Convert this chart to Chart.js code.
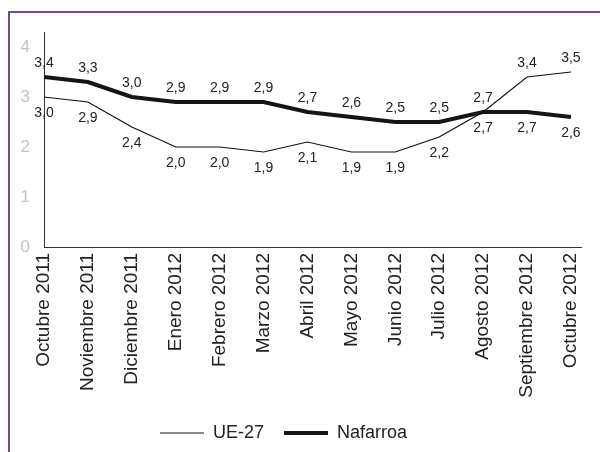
<!DOCTYPE html>
<html>
<head>
<meta charset="utf-8">
<script src="https://cdn.jsdelivr.net/npm/chart.js@4.4.1/dist/chart.umd.min.js"></script>
<style>
  html, body { margin: 0; padding: 0; background: #fff; overflow: hidden; }
  #frame {
    position: absolute; left: 8px; top: 11px; width: 700px; height: 600px;
    border-top: 2px solid #6d4f8c; border-left: 2px solid #6d4f8c;
  }
  #wrap { position: absolute; left: 0; top: 0; width: 600px; height: 452px; }
</style>
</head>
<body>
<div id="frame"></div>
<div id="wrap"><canvas id="chart" width="600" height="452"></canvas></div>
<script>
const months = [
  "Octubre 2011", "Noviembre 2011", "Diciembre 2011", "Enero 2012",
  "Febrero 2012", "Marzo 2012", "Abril 2012", "Mayo 2012", "Junio 2012",
  "Julio 2012", "Agosto 2012", "Septiembre 2012", "Octubre 2012"
];
const ue27 = [3.0, 2.9, 2.4, 2.0, 2.0, 1.9, 2.1, 1.9, 1.9, 2.2, 2.7, 3.4, 3.5];
const nafarroa = [3.4, 3.3, 3.0, 2.9, 2.9, 2.9, 2.7, 2.6, 2.5, 2.5, 2.7, 2.7, 2.6];
const yTicks = [0, 1, 2, 3, 4];

const FONT = "'Liberation Sans', Arial, sans-serif";

// value labels: whichever series is higher gets its label above the line
const valueLabels = {
  id: "valueLabels",
  afterDatasetsDraw(chart) {
    const ctx = chart.ctx;
    ctx.save();
    ctx.font = "14px " + FONT;
    ctx.fillStyle = "#222";
    ctx.textAlign = "center";
    ctx.textBaseline = "middle";
    chart.data.datasets.forEach((ds, di) => {
      const meta = chart.getDatasetMeta(di);
      meta.data.forEach((pt, i) => {
        const v = ds.data[i].y;
        let above;
        if (di === 0) above = ue27[i] >= nafarroa[i];
        else above = nafarroa[i] > ue27[i];
        const y = above ? pt.y - 14 : pt.y + 16;
        ctx.fillText(v.toFixed(1).replace(".", ","), pt.x, y);
      });
    });
    ctx.restore();
  }
};

// the legend in the original sits a bit left of centre
const legendShift = {
  id: "legendShift",
  afterLayout(chart) {
    chart.legend.left -= 9;
    chart.legend.right -= 9;
  }
};

new Chart(document.getElementById("chart"), {
  type: "line",
  data: {
    datasets: [
      {
        label: "UE-27",
        data: ue27.map((v, i) => ({ x: i, y: v })),
        borderColor: "#111",
        backgroundColor: "#111",
        borderWidth: 1.2,
        pointRadius: 0,
        tension: 0
      },
      {
        label: "Nafarroa",
        data: nafarroa.map((v, i) => ({ x: i, y: v })),
        borderColor: "#151515",
        backgroundColor: "#151515",
        borderWidth: 4,
        pointRadius: 0,
        tension: 0
      }
    ]
  },
  options: {
    responsive: false,
    animation: false,
    layout: { padding: { left: 0, right: 15, top: 32, bottom: 0 } },
    plugins: {
      tooltip: { enabled: false },
      legend: {
        position: "bottom",
        labels: {
          usePointStyle: true,
          pointStyle: "line",
          pointStyleWidth: 44,
          boxHeight: 18,
          color: "#222",
          font: { family: FONT, size: 18 },
          padding: 20
        }
      }
    },
    scales: {
      x: {
        type: "linear",
        min: 0,
        max: 12.23,
        grid: { display: false, drawTicks: false },
        border: { display: true, color: "#333", width: 1 },
        afterBuildTicks(axis) {
          axis.ticks = months.map((m, i) => ({ value: i }));
        },
        afterFit(axis) { axis.height = 157; },
        ticks: {
          autoSkip: false,
          minRotation: 90,
          maxRotation: 90,
          padding: 6,
          color: "#222",
          font: { family: FONT, size: 19 },
          callback: (v) => months[v]
        }
      },
      y: {
        min: 0,
        max: 4.3,
        grid: { display: false, drawTicks: false },
        border: { display: true, color: "#333", width: 1 },
        afterBuildTicks(axis) {
          axis.ticks = yTicks.map((v) => ({ value: v }));
        },
        afterFit(axis) { axis.width = 44; },
        ticks: {
          padding: 14,
          color: "#c4c4c4",
          font: { family: FONT, size: 17 }
        }
      }
    }
  },
  plugins: [valueLabels, legendShift]
});
</script>
</body>
</html>
